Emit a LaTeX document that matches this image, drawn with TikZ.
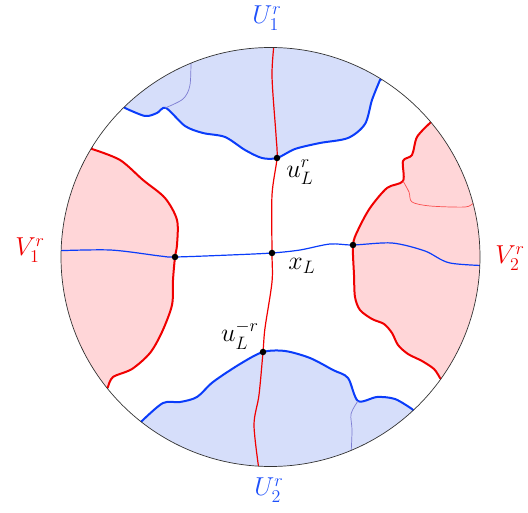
\documentclass[tikz,border=0pt]{standalone}
\usepackage{amsmath}
\definecolor{ublue}{RGB}{10, 60, 250}
\definecolor{ufill}{RGB}{214, 222, 250}
\definecolor{uthin}{RGB}{125, 125, 210}
\definecolor{vred}{RGB}{240, 0, 0}
\definecolor{vfill}{RGB}{255, 214, 216}
\definecolor{vthin}{RGB}{250, 80, 80}
\definecolor{ulabel}{RGB}{30, 80, 250}
\usetikzlibrary{calc}

\begin{document}
\begin{tikzpicture}[x=1pt, y=-1pt,
    blackdot/.style={circle, fill=black, inner sep=0pt, minimum size=6.5pt},
    lbl/.style={font=\huge, scale=1.25, inner sep=0pt},
    border/.style={line width=2pt},
    mainline/.style={line width=1.2pt},
    innerline/.style={line width=0.7pt}]
    \useasboundingbox (0,0) rectangle (528,513);
    \coordinate (c) at (270.5,257);

    \begin{scope}
        \clip (c) circle (209.5);
        % U_1 region (top)
        \filldraw[fill=ufill, draw=ublue, border] plot[smooth] coordinates {(125,108) (145,116) (157,113) (166,108) (185,126) (203,133) (225,137) (245,150) (262,158) (277,158) (295,149) (320,143) (348,138) (365,124) (372,100) (380,80)} -- (430,60) -- (430,0) -- (100,0) -- (100,90) -- cycle;
        \draw[uthin, innerline] plot[smooth] coordinates {(165,108) (183,99) (190,85) (191,55)};

        % U_2 region (bottom)
        \filldraw[fill=ufill, draw=ublue, border] plot[smooth] coordinates {(143,420) (163,403) (180,402) (197,397) (213,382) (240,364) (263,352) (285,351) (310,358) (333,370) (348,378) (358,401) (377,397) (395,399) (412,409)} -- (440,440) -- (440,513) -- (100,513) -- (120,440) -- cycle;
        \draw[uthin, innerline] plot[smooth] coordinates {(358,401) (351,414) (352,432) (350,475)};

        % V_1 region (left)
        \filldraw[fill=vfill, draw=vred, border] plot[smooth] coordinates {(92,149) (120,160) (143,180) (165,198) (177,220) (177,245) (175,257) (173,280) (172,305) (162,332) (150,353) (132,369) (113,377) (108,387)} -- (80,420) -- (0,420) -- (0,100) -- (80,120) -- cycle;

        % V_2 region (right)
        \filldraw[fill=vfill, draw=vred, border] plot[smooth] coordinates {(430,123) (417,137) (412,155) (403,161) (403,181) (387,188) (370,208) (358,230) (353,245) (354,275) (355,297) (360,310) (372,319) (384,324) (392,333) (398,345) (408,354) (422,361) (434,369) (440,378)} -- (470,400) -- (528,400) -- (528,100) -- (450,100) -- cycle;
        \draw[vthin, innerline] plot[smooth] coordinates {(403,181) (409,192) (412,202) (430,206) (465,207) (474,203) (490,198)};

        % crossing curves
        \draw[vred, mainline] plot[smooth] coordinates {(275,35) (272,75) (276,135) (277,158) (272,195) (272,253) (272,282) (265,328) (263,352) (259,395) (254,425) (259,470)};
        \draw[ublue, mainline] plot[smooth] coordinates {(50,251) (110,250) (160,256) (175,257) (230,255) (272,253) (300,250) (330,244) (353,245) (392,243) (425,251) (450,263) (495,266)};
    \end{scope}

    % disc
    \draw[black!80, line width=0.7pt] (c) circle (209.5);

    % points
    \node[blackdot] (uLr) at (277,158) {};
    \node[blackdot] (xL) at (272,253) {};
    \node[blackdot] (uLmr) at (263,352) {};
    \node[blackdot] (v1) at (175,257) {};
    \node[blackdot] (v2) at (353,245) {};

    % labels
    \node[lbl] (uLrlab) at (300,172) {$u_L^r$};
    \node[lbl] (xLlab) at (302,266) {$x_L$};
    \node[lbl] (uLmrlab) at (240,335) {$u_L^{-r}$};
    \node[lbl, text=ulabel] (U1) at (267,18) {$U_1^r$};
    \node[lbl, text=ulabel] (U2) at (269,490) {$U_2^r$};
    \node[lbl, text=vred] (V1) at (30,250) {$V_1^r$};
    \node[lbl, text=vred] (V2) at (510,258) {$V_2^r$};
\end{tikzpicture}
\end{document}
